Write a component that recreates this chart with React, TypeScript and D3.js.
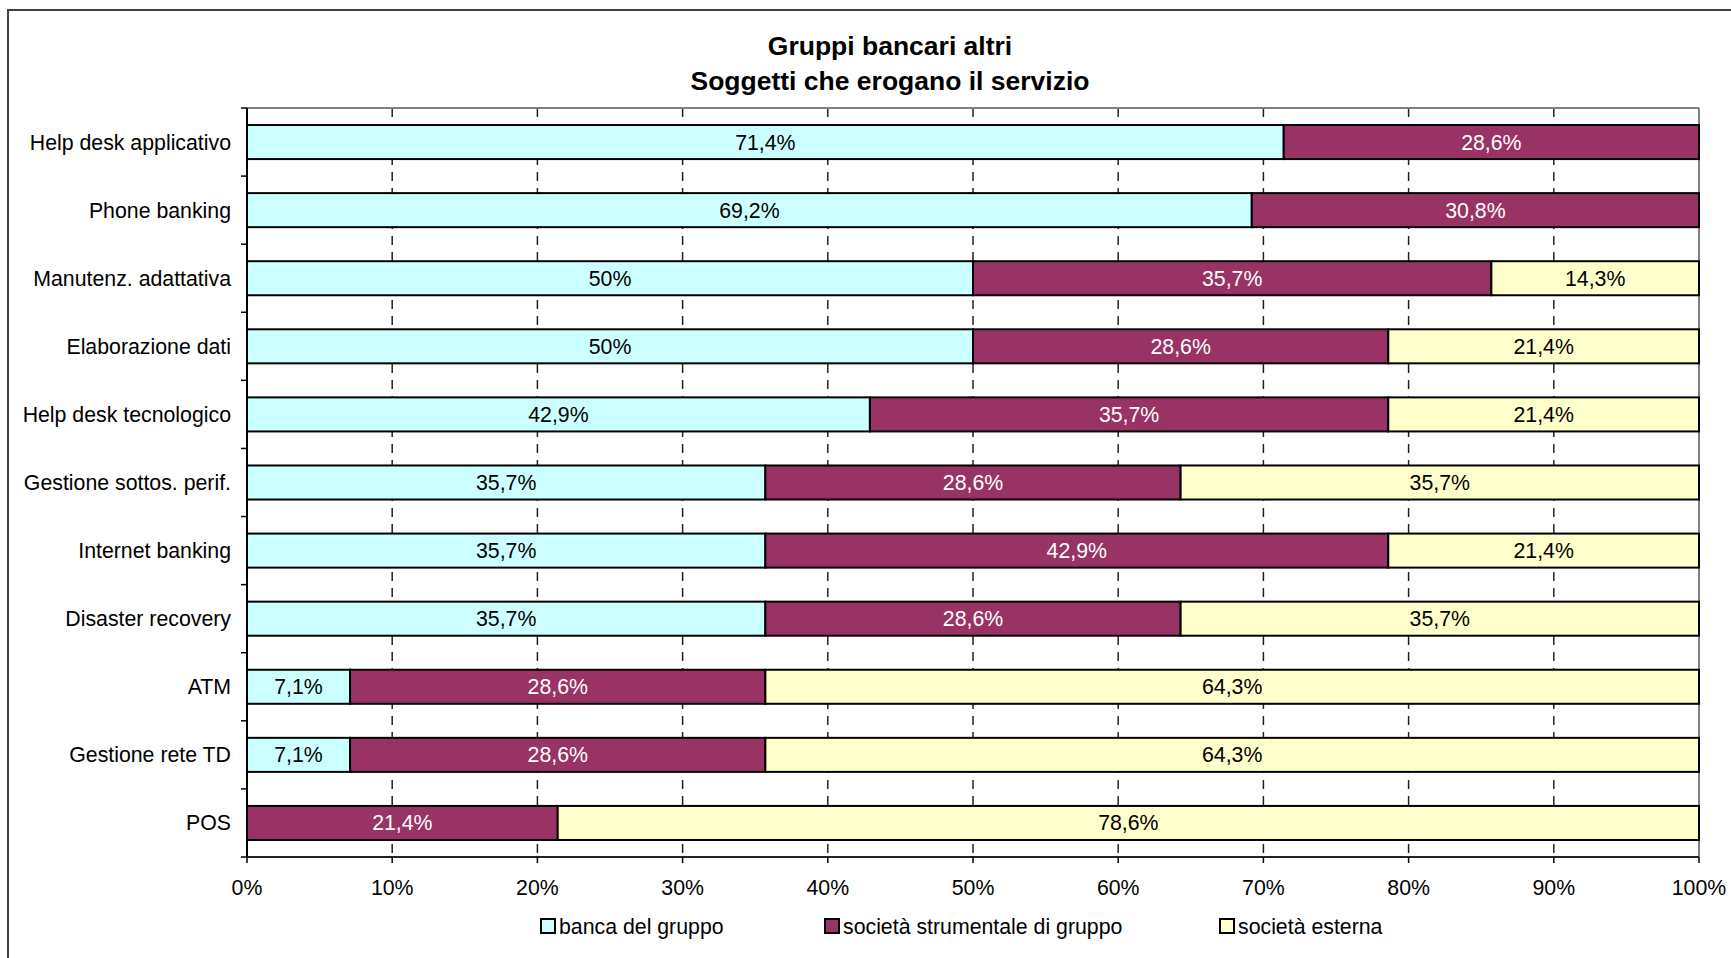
import React from "react";
import * as d3 from "d3";

const categories = [
  "Help desk applicativo",
  "Phone banking",
  "Manutenz. adattativa",
  "Elaborazione dati",
  "Help desk tecnologico",
  "Gestione sottos. perif.",
  "Internet banking",
  "Disaster recovery",
  "ATM",
  "Gestione rete TD",
  "POS",
];
const bancaDelGruppo = [71.4, 69.2, 50, 50, 42.9, 35.7, 35.7, 35.7, 7.1, 7.1, 0];
const societaStrumentale = [28.6, 30.8, 35.7, 28.6, 35.7, 28.6, 42.9, 28.6, 28.6, 28.6, 21.4];
const societaEsterna = [0, 0, 14.3, 21.4, 21.4, 35.7, 21.4, 35.7, 64.3, 64.3, 78.6];
const seriesNames = ["banca del gruppo", "società strumentale di gruppo", "società esterna"];
const seriesColors = ["#CCFFFF", "#993366", "#FFFFCC"];
const labelColors = ["#000000", "#FFFFFF", "#000000"];
const xTicks = [0, 10, 20, 30, 40, 50, 60, 70, 80, 90, 100];
const titleLines = ["Gruppi bancari altri", "Soggetti che erogano il servizio"];

const W = 1731;
const H = 958;
const FONT = "'Liberation Sans', Arial, sans-serif";
const FS = 21.3;

const fmt = (v: number) =>
  (Number.isInteger(v) ? String(v) : v.toFixed(1).replace(".", ",")) + "%";

export default function App() {
  const plot = { left: 247, right: 1699, top: 108, bottom: 857 };
  const x = d3.scaleLinear().domain([0, 100]).range([plot.left, plot.right]);
  const y = d3
    .scaleBand<string>()
    .domain(categories)
    .range([plot.top, plot.bottom])
    .paddingInner(0.5)
    .paddingOuter(0.25);

  const table = categories.map((c, i) => ({
    cat: c,
    s0: bancaDelGruppo[i],
    s1: societaStrumentale[i],
    s2: societaEsterna[i],
  }));
  const stack = d3.stack<any>().keys(["s0", "s1", "s2"]);
  const stacked = stack(table);

  const step = y.step();
  const boundaries = d3.range(categories.length + 1).map((i) => plot.top + i * step);

  const legendX = [541, 825, 1220];

  return (
    <svg
      width={W}
      height={H}
      style={{ position: "absolute", left: 0, top: 0, background: "#fff" }}
      fontFamily={FONT}
    >
      <rect x={0} y={0} width={W} height={H} fill="#fff" />
      {/* outer chart border */}
      <rect x={8} y={10} width={W + 50} height={H + 50} fill="none" stroke="#404040" strokeWidth={2} />

      {/* title */}
      {titleLines.map((t, i) => (
        <text
          key={t}
          x={890}
          y={55 + i * 34.5}
          textAnchor="middle"
          fontSize={26.5}
          fontWeight="bold"
          fill="#000"
        >
          {t}
        </text>
      ))}

      {/* gridlines */}
      {xTicks.slice(1, -1).map((t) => (
        <line
          key={"g" + t}
          x1={x(t)}
          x2={x(t)}
          y1={plot.top}
          y2={plot.bottom}
          stroke="#222"
          strokeWidth={1.5}
          strokeDasharray="9,7"
        />
      ))}

      {/* plot frame top/right */}
      <line x1={plot.left} x2={plot.right} y1={plot.top} y2={plot.top} stroke="#808080" strokeWidth={2} />
      <line x1={plot.right} x2={plot.right} y1={plot.top} y2={plot.bottom} stroke="#808080" strokeWidth={2} />

      {/* bars */}
      {stacked.map((layer, si) =>
        layer.map((d, i) => {
          const v = d[1] - d[0];
          if (v <= 0) return null;
          const cat = categories[i];
          const x0 = x(d[0]);
          const x1 = x(d[1]);
          const by = y(cat)!;
          return (
            <g key={si + "-" + i}>
              <rect
                x={x0}
                y={by}
                width={x1 - x0}
                height={y.bandwidth()}
                fill={seriesColors[si]}
                stroke="#000"
                strokeWidth={2}
              />
              <text
                x={(x0 + x1) / 2}
                y={by + y.bandwidth() / 2 + 7.5}
                textAnchor="middle"
                fontSize={FS}
                fill={labelColors[si]}
              >
                {fmt(v)}
              </text>
            </g>
          );
        })
      )}

      {/* axes */}
      <line x1={plot.left} x2={plot.left} y1={plot.top} y2={plot.bottom} stroke="#000" strokeWidth={2} />
      <line x1={plot.left} x2={plot.right} y1={plot.bottom} y2={plot.bottom} stroke="#222" strokeWidth={2} />
      {boundaries.map((b, i) => (
        <line key={"yt" + i} x1={plot.left - 6} x2={plot.left} y1={b} y2={b} stroke="#000" strokeWidth={1.5} />
      ))}
      {xTicks.map((t) => (
        <g key={"xt" + t}>
          <line x1={x(t)} x2={x(t)} y1={plot.bottom} y2={plot.bottom + 6} stroke="#000" strokeWidth={1.5} />
          <text x={x(t)} y={895} textAnchor="middle" fontSize={FS} fill="#000">
            {t + "%"}
          </text>
        </g>
      ))}

      {/* category labels */}
      {categories.map((c) => (
        <text
          key={"c" + c}
          x={231}
          y={y(c)! + y.bandwidth() / 2 + 7.5}
          textAnchor="end"
          fontSize={FS}
          fill="#000"
        >
          {c}
        </text>
      ))}

      {/* legend */}
      {seriesNames.map((n, i) => (
        <g key={"l" + n}>
          <rect x={legendX[i]} y={919} width={14} height={14} fill={seriesColors[i]} stroke="#000" strokeWidth={2} />
          <text x={legendX[i] + 18} y={933.5} fontSize={FS} fill="#000">
            {n}
          </text>
        </g>
      ))}
    </svg>
  );
}
